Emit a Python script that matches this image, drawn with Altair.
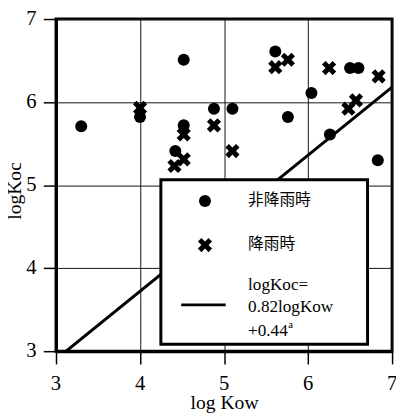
import altair as alt
import pandas as pd

# Data
dry_x = [3.30, 4.00, 4.52, 4.52, 4.42, 4.88, 5.10, 5.61, 5.76, 6.04, 6.50, 6.60, 6.26, 6.83]
dry_y = [5.71, 5.82, 6.51, 5.72, 5.41, 5.92, 5.92, 6.61, 5.82, 6.11, 6.41, 6.41, 5.61, 5.30]

rain_x = [4.00, 4.52, 4.41, 4.52, 4.88, 5.10, 5.61, 5.76, 6.25, 6.48, 6.57, 6.84]
rain_y = [5.93, 5.61, 5.23, 5.31, 5.72, 5.41, 6.42, 6.51, 6.41, 5.92, 6.02, 6.31]

# logKoc = 0.82 logKow + 0.44, clipped to the plot
line_x = [3.12, 7.00]
line_y = [3.00, 6.18]

ticks = [3, 4, 5, 6, 7]
tick_labels = ["3", "4", "5", "6", "7"]

legend_labels = ["非降雨時", "降雨時", "logKoc=", "0.82logKow", "+0.44"]

SERIF = "Liberation Serif"
CJK = "Noto Sans CJK JP"

dom = [3, 7]
xs = alt.Scale(domain=dom, nice=False, zero=False)
ys = alt.Scale(domain=dom, nice=False, zero=False)

X_PATH = ("M-1,-0.5L-0.5,-1L0,-0.5L0.5,-1L1,-0.5L0.5,0L1,0.5L0.5,1"
          "L0,0.5L-0.5,1L-1,0.5L-0.5,0Z")

line_df = pd.DataFrame({"x": line_x, "y": line_y})
dry_df = pd.DataFrame({"x": dry_x, "y": dry_y})
rain_df = pd.DataFrame({"x": rain_x, "y": rain_y})

base_line = alt.Chart(line_df).mark_line(color="black", strokeWidth=3, clip=True).encode(
    x=alt.X("x:Q", scale=xs, title="log Kow",
            axis=alt.Axis(values=ticks, labels=False, titleFont=SERIF, titleFontSize=20,
                          titleY=59, titleBaseline="alphabetic")),
    y=alt.Y("y:Q", scale=ys, title="logKoc",
            axis=alt.Axis(values=ticks, labels=False, titleFont=SERIF, titleFontSize=20,
                          titleX=-36, titleY=175, titleBaseline="alphabetic")),
)

# tick labels drawn as text through the same scales
xlab = alt.Chart(pd.DataFrame({"x": ticks, "y": [3] * len(ticks), "t": tick_labels})).mark_text(
    align="center", baseline="middle", font=SERIF, fontSize=21, color="black", dy=34
).encode(x="x:Q", y="y:Q", text="t:N")
ylab = alt.Chart(pd.DataFrame({"x": [3] * len(ticks), "y": ticks, "t": tick_labels})).mark_text(
    align="right", baseline="middle", font=SERIF, fontSize=21, color="black", dx=-20
).encode(x="x:Q", y="y:Q", text="t:N")

CIRCLE_SIZE = 150
CROSS_SIZE = 210

dry = alt.Chart(dry_df).mark_point(shape="circle", filled=True, color="black",
                                   size=CIRCLE_SIZE, opacity=1).encode(x="x:Q", y="y:Q")
rain = alt.Chart(rain_df).mark_point(shape=X_PATH, filled=True, color="black",
                                     size=CROSS_SIZE, opacity=1).encode(x="x:Q", y="y:Q")

# legend box
box_df = pd.DataFrame({"x": [4.248], "x2": [6.708], "y": [5.065], "y2": [3.083]})
box = alt.Chart(box_df).mark_rect(fill="white", stroke="black", strokeWidth=3).encode(
    x="x:Q", x2="x2:Q", y="y:Q", y2="y2:Q")

leg_dot = alt.Chart(pd.DataFrame({"x": [4.773], "y": [4.809]})).mark_point(
    shape="circle", filled=True, color="black", size=CIRCLE_SIZE, opacity=1).encode(x="x:Q", y="y:Q")
leg_x = alt.Chart(pd.DataFrame({"x": [4.773], "y": [4.278]})).mark_point(
    shape=X_PATH, filled=True, color="black", size=CROSS_SIZE, opacity=1).encode(x="x:Q", y="y:Q")
leg_line = alt.Chart(pd.DataFrame({"x": [4.49, 5.02], "y": [3.558, 3.558]})).mark_line(
    color="black", strokeWidth=3).encode(x="x:Q", y="y:Q")

cjk_df = pd.DataFrame({"x": [5.286, 5.286], "y": [4.817, 4.286], "t": legend_labels[:2]})
cjk_text = alt.Chart(cjk_df).mark_text(align="left", baseline="middle", font=CJK,
                                       fontSize=16, color="black").encode(
    x="x:Q", y="y:Q", text="t:N")

eq_df = pd.DataFrame({"x": [5.286, 5.286, 5.286], "y": [3.79, 3.525, 3.245],
                      "t": legend_labels[2:]})
eq_text = alt.Chart(eq_df).mark_text(align="left", baseline="middle", font=SERIF,
                                     fontSize=17.5, color="black").encode(
    x="x:Q", y="y:Q", text="t:N")
sup = alt.Chart(pd.DataFrame({"x": [5.765], "y": [3.31], "t": ["a"]})).mark_text(
    align="left", baseline="middle", font=SERIF, fontSize=11, color="black").encode(
    x="x:Q", y="y:Q", text="t:N")

chart = alt.layer(base_line, dry, rain, box, leg_dot, leg_x, leg_line, cjk_text, eq_text, sup,
                  xlab, ylab).properties(
    width=343, height=339,
    autosize=alt.AutoSizeParams(type="none"),
    padding={"left": 49, "top": 7, "right": 4, "bottom": 68},
    background="white",
).configure(
    view={"stroke": "black", "strokeWidth": 3},
    axis={
        "titleFont": SERIF, "titleFontSize": 20, "titleFontWeight": "normal",
        "titleColor": "black",
        "tickSize": 13, "tickColor": "black", "tickWidth": 1.5,
        "domainColor": "black", "domainWidth": 3,
        "gridColor": "#111", "gridWidth": 1, "gridOpacity": 1,
    },
)

chart.save("out.html", embed_options={"renderer": "svg", "actions": False})
